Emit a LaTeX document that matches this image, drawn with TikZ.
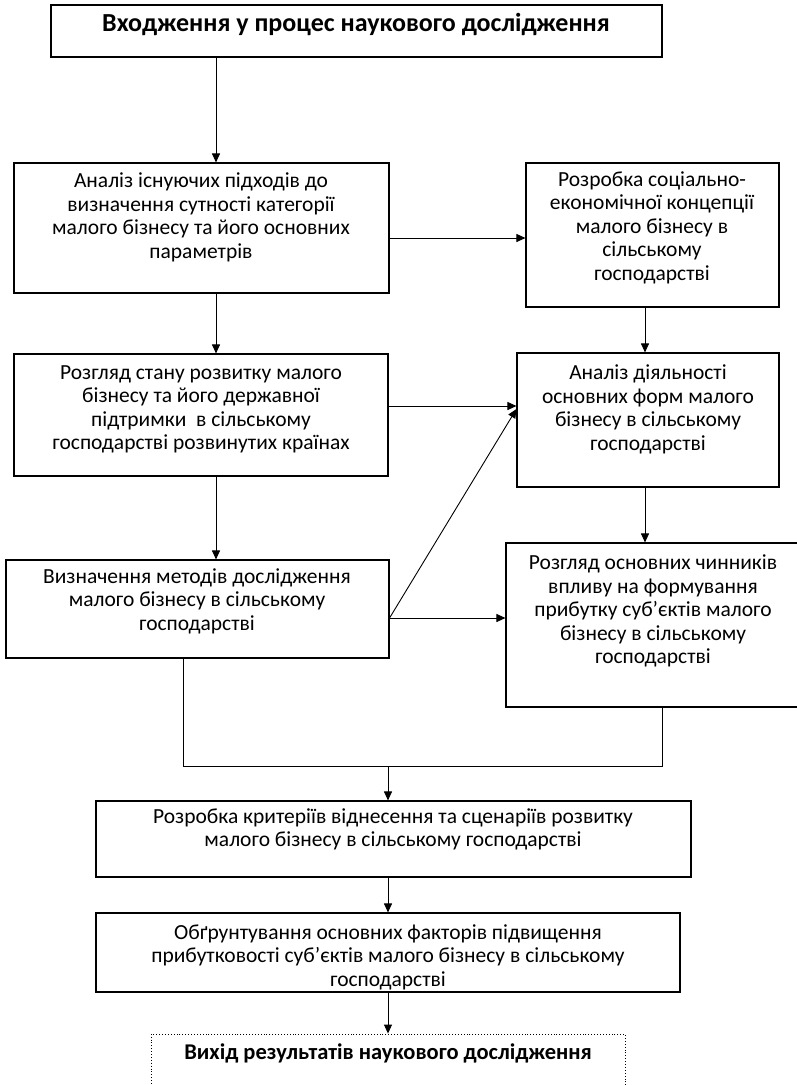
\documentclass[tikz,border=0pt]{standalone}
\usepackage{fontspec}
\setmainfont{Carlito}
\usetikzlibrary{arrows.meta,fit}
\begin{document}
\begin{tikzpicture}[x=1pt,y=-1pt,
  box/.style={draw,line width=1.1pt,inner sep=0pt},
  dotbox/.style={draw,dotted,line width=0.9pt,inner sep=0pt},
  txt/.style={align=center,font=\fontsize{21.5}{23.5}\selectfont,inner sep=0pt},
  ttl/.style={align=center,font=\fontsize{26}{30}\selectfont\bfseries,inner sep=0pt},
  ttlb/.style={align=center,font=\fontsize{22.5}{26}\selectfont\bfseries,inner sep=0pt},
  arr/.style={draw,line width=0.9pt,-{Triangle[length=9pt,width=8pt]}},
  ln/.style={draw,line width=0.9pt}]
\useasboundingbox (0,0) rectangle (796,1085);

% boxes
\node[box,fit={(51,5)(662,57)}] (T) {};
\node[box,fit={(14,163)(389,293)}] (A) {};
\node[box,fit={(526,163)(779,307)}] (B) {};
\node[box,fit={(14,354)(388,476)}] (C) {};
\node[box,fit={(517,353)(779,487)}] (D) {};
\node[box,fit={(6,560)(389,658)}] (E) {};
\node[box,fit={(506,543)(805,707)}] (F) {};
\node[box,fit={(96,801)(691,877)}] (G) {};
\node[box,fit={(96,913)(680,992)}] (H) {};
\node[dotbox,fit={(151,1034)(625,1110)}] (I) {};

% texts
\node[ttl] (tT) at (356,24) {Входження у процес наукового дослідження};
\node[txt] (tA) at (201,217.5) {Аналіз існуючих підходів до\\визначення сутності категорії\\малого бізнесу та його основних\\параметрів};
\node[txt] (tB) at (652,227.5) {Розробка соціально-\\економічної концепції\\малого бізнесу в\\сільському\\господарстві};
\node[txt] (tC) at (201,409.5) {Розгляд стану розвитку малого\\бізнесу та його державної\\підтримки\ \ в сільському\\господарстві розвинутих країнах};
\node[txt] (tD) at (648,409.5) {Аналіз діяльності\\основних форм малого\\бізнесу в сільському\\господарстві};
\node[txt] (tE) at (197,601) {Визначення методів дослідження\\малого бізнесу в сільському\\господарстві};
\node[txt] (tF) at (653,611) {Розгляд основних чинників\\впливу на формування\\прибутку суб’єктів малого\\бізнесу в сільському\\господарстві};
\node[txt] (tG) at (393,829.5) {Розробка критеріїв віднесення та сценаріїв розвитку\\малого бізнесу в сільському господарстві};
\node[txt] (tH) at (388,957) {Обґрунтування основних факторів підвищення\\прибутковості суб’єктів малого бізнесу в сільському\\господарстві};
\node[ttlb] (tI) at (388,1053) {Вихід результатів наукового дослідження};

% helper coordinates
\coordinate (xa) at (216,0);
\coordinate (xb) at (645,0);
\coordinate (yab) at (0,238);
\coordinate (ycd) at (0,406);
\coordinate (ydd) at (0,409);
\coordinate (yef) at (0,618);
\coordinate (xe) at (183,0);
\coordinate (xf) at (662,0);
\coordinate (J) at (388,766);

% connectors
\draw[arr] (T.south -| xa) -- (A.north -| xa);
\draw[arr] (A.east |- yab) -- (B.west |- yab);
\draw[arr] (A.south -| xa) -- (C.north -| xa);
\draw[arr] (B.south -| xb) -- (D.north -| xb);
\draw[arr] (C.east |- ycd) -- (D.west |- ycd);
\draw[arr] (C.south -| xa) -- (E.north -| xa);
\draw[arr] (E.east |- yef) -- (D.west |- ydd);
\draw[arr] (E.east |- yef) -- (F.west |- yef);
\draw[arr] (D.south -| xb) -- (F.north -| xb);
\draw[ln] (E.south -| xe) |- (J) -| (F.south -| xf);
\draw[arr] (J) -- (G.north -| J);
\draw[arr] (G.south -| J) -- (H.north -| J);
\draw[arr] (H.south -| J) -- (I.north -| J);
\end{tikzpicture}
\end{document}
